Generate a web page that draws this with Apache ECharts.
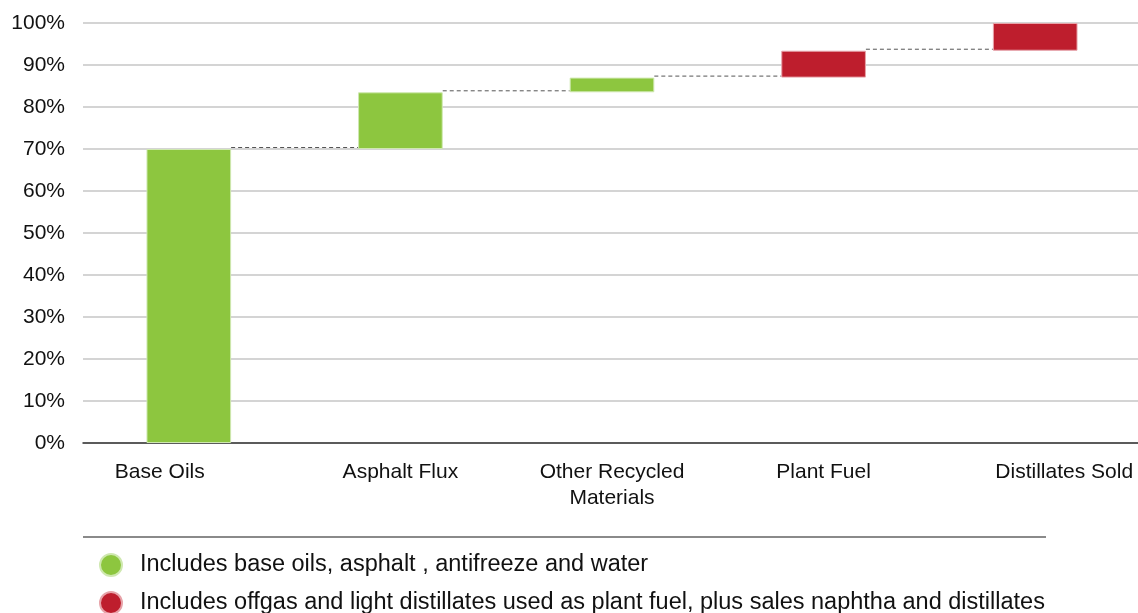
<!DOCTYPE html>
<html>
<head>
<meta charset="utf-8">
<script src="https://cdn.jsdelivr.net/npm/echarts@6/dist/echarts.min.js"></script>
<style>
  html, body { margin: 0; padding: 0; background: #fff; }
  #main { width: 1138px; height: 613px; }
</style>
</head>
<body>
<div id="main"></div>
<script>
// categories and waterfall values (percent)
var categories = ['Base Oils', 'Asphalt Flux', 'Other Recycled\nMaterials', 'Plant Fuel', 'Distillates Sold']
var baseValues = [0, 70, 83.5, 87, 93.4]
var greenValues = [70, 13.5, 3.5, '-', '-']
var redValues = ['-', '-', '-', 6.4, 6.6]
// running totals used by the dashed connectors
var connectorLevels = [[0, 70], [1, 83.5], [2, 87], [3, 93.4]]
var yTicks = [0, 10, 20, 30, 40, 50, 60, 70, 80, 90, 100]

var greenName = 'Includes base oils, asphalt , antifreeze and water'
var redName = 'Includes offgas and light distillates used as plant fuel, plus sales naphtha and distillates'

var font = 'Arial, "Liberation Sans", sans-serif'
var barRatio = 0.4

var chart = echarts.init(document.getElementById('main'))

var xData = categories.map(function (c, i) {
  var item = { value: c }
  if (i === 0) item.textStyle = { padding: [0, 58, 0, 0] }
  if (i === categories.length - 1) item.textStyle = { padding: [0, 0, 0, 58] }
  return item
})

function legendRow(name, top) {
  return {
    data: [name],
    left: 99,
    top: top,
    padding: 0,
    icon: 'circle',
    itemWidth: 22,
    itemHeight: 22,
    selectedMode: false,
    textStyle: {
      fontFamily: font,
      fontSize: 23.5,
      color: '#111',
      padding: [0, 0, 0, 13]
    }
  }
}

chart.setOption({
  animation: false,
  textStyle: { fontFamily: font },
  grid: {
    left: 83,
    top: 23,
    width: 1058,
    height: 420,
    containLabel: false,
    outerBoundsMode: 'none'
  },
  legend: [legendRow(greenName, 553), legendRow(redName, 591)],
  graphic: [{
    type: 'line',
    shape: { x1: 83, y1: 537, x2: 1046, y2: 537 },
    style: { stroke: '#8a8a8a', lineWidth: 2 }
  }],
  xAxis: {
    type: 'category',
    data: xData,
    axisTick: { show: false },
    axisLine: { lineStyle: { color: '#333', width: 1.5 } },
    axisLabel: {
      interval: 0,
      margin: 16,
      color: '#111',
      fontSize: 21,
      lineHeight: 26,
      fontFamily: font
    }
  },
  yAxis: {
    type: 'value',
    min: yTicks[0],
    max: yTicks[yTicks.length - 1],
    interval: 10,
    axisLine: { show: false },
    axisTick: { show: false },
    axisLabel: {
      margin: 18,
      color: '#111',
      fontSize: 21,
      fontFamily: font,
      formatter: '{value}%'
    },
    splitLine: { lineStyle: { color: '#c6c6c6', width: 1.5 } }
  },
  series: [
    {
      type: 'bar',
      stack: 'wf',
      barWidth: '40%',
      itemStyle: { color: 'transparent' },
      silent: true,
      data: baseValues
    },
    {
      name: greenName,
      type: 'bar',
      stack: 'wf',
      barWidth: '40%',
      itemStyle: { color: '#8dc63f', borderColor: '#cfe8b0', borderWidth: 1 },
      data: greenValues
    },
    {
      name: redName,
      type: 'bar',
      stack: 'wf',
      barWidth: '40%',
      itemStyle: { color: '#be1e2d', borderColor: '#e7a3a9', borderWidth: 1 },
      data: redValues
    },
    {
      type: 'custom',
      silent: true,
      z: 1,
      data: connectorLevels,
      renderItem: function (params, api) {
        var idx = api.value(0)
        var lvl = api.value(1)
        var p1 = api.coord([idx, lvl])
        var p2 = api.coord([idx + 1, lvl])
        var half = api.size([1, 0])[0] * barRatio / 2
        return {
          type: 'line',
          shape: { x1: p1[0] + half, y1: p1[1] - 1.5, x2: p2[0] - half, y2: p2[1] - 1.5 },
          style: { stroke: '#555', lineWidth: 1, lineDash: [4, 3] }
        }
      }
    }
  ]
})
</script>
</body>
</html>
